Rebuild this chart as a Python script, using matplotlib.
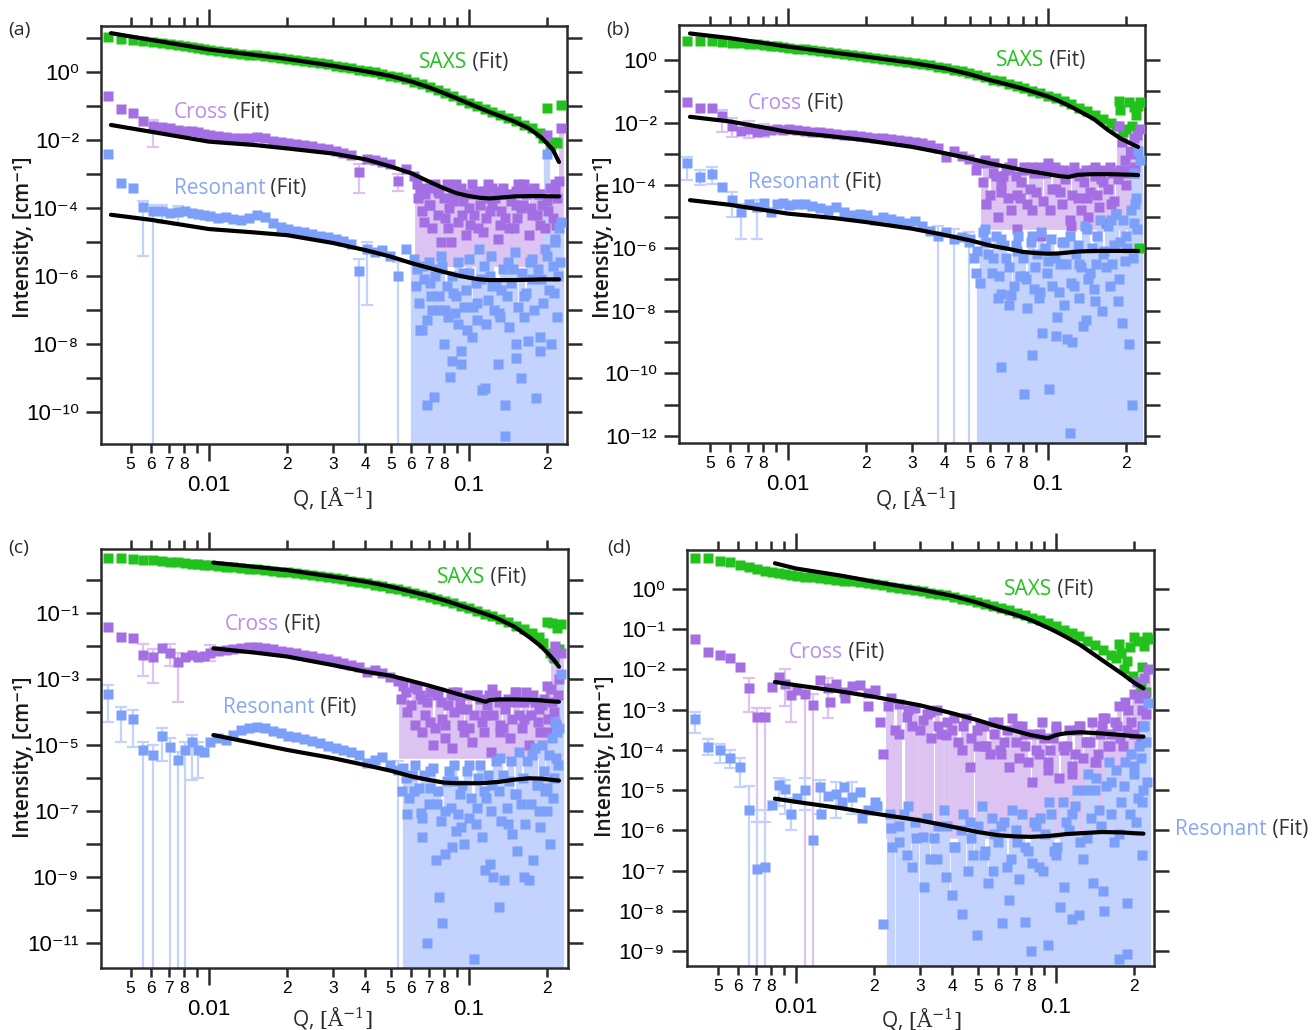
import numpy as np
import matplotlib
matplotlib.use('Agg')
import matplotlib.pyplot as plt
from matplotlib import font_manager
from matplotlib.ticker import FixedLocator, FixedFormatter, FuncFormatter, NullLocator

# intensities are stored as log10(I [cm^-1]); Q in 1/Angstrom
BOTTOM = -20   # error bar that reaches zero intensity

Q = [0.0041, 0.0046, 0.0051, 0.0056, 0.0061, 0.0066, 0.0071, 0.0076, 0.0081, 0.0086,
     0.0091, 0.0096, 0.0101, 0.0108, 0.0116, 0.0124, 0.0133, 0.0143, 0.0153, 0.0164,
     0.0176, 0.0189, 0.0202, 0.0217, 0.0232, 0.0249, 0.0267, 0.0286, 0.0307, 0.0329,
     0.0352, 0.0378, 0.0405, 0.0434, 0.0465, 0.0499, 0.0535, 0.0573, 0.0614, 0.0659,
     0.0706, 0.0757, 0.0811, 0.0870, 0.0932, 0.0999, 0.1071, 0.1148, 0.1231, 0.1320,
     0.1415, 0.1516, 0.1626, 0.1743, 0.1868, 0.2003, 0.2147, 0.2250]

fit_q_ab = [0.0042, 0.006, 0.01, 0.015, 0.02, 0.03, 0.04, 0.05, 0.06, 0.07, 0.08,
            0.09, 0.10, 0.11, 0.12, 0.13, 0.15, 0.17, 0.19, 0.21, 0.222]
fit_q_c = [0.0104, 0.015, 0.02, 0.03, 0.04, 0.05, 0.06, 0.07, 0.08, 0.09, 0.10,
           0.11, 0.116, 0.12, 0.13, 0.15, 0.17, 0.19, 0.21, 0.222]
fit_q_d = [0.0083, 0.01, 0.015, 0.02, 0.03, 0.04, 0.05, 0.06, 0.07, 0.08, 0.093,
           0.10, 0.11, 0.124, 0.15, 0.18, 0.20, 0.217]

# ---------------- panel (a)
a_saxs = [1.02, 0.98, 0.93, 0.90, 0.87, 0.84, 0.81, 0.78, 0.75, 0.72,
          0.69, 0.66, 0.63, 0.61, 0.58, 0.56, 0.53, 0.51, 0.49, 0.47,
          0.44, 0.41, 0.38, 0.35, 0.32, 0.29, 0.26, 0.22, 0.18, 0.14,
          0.11, 0.07, 0.03, -0.01, -0.06, -0.11, -0.16, -0.22, -0.29, -0.36,
          -0.44, -0.53, -0.62, -0.72, -0.82, -0.92, -1.01, -1.10, -1.19, -1.27,
          -1.36, -1.45, -1.56, -1.66, -1.80, -1.06, -2.05, -0.97]
a_saxs_cloud = [(0.193, -1.95), (0.207, -2.15), (0.219, -2.10)]
a_cross = [-0.71, -1.10, -1.22, -1.44, -1.58, -1.62, -1.66, -1.70, -1.73, -1.75,
           -1.78, -1.82, -1.86, -1.88, -1.91, -1.93, -1.95, -1.93, -1.90, -1.93,
           -2.02, -2.07, -2.10, -2.13, -2.16, -2.19, -2.23, -2.27, -2.33, -2.38,
           -2.43, -2.95, -2.55, -2.58, -2.65, -2.72, -3.20, -2.85, -3.05, -3.40,
           -3.90, -3.50, -4.30, -3.60, -3.40, -4.00, -3.50, -3.70, -3.40, -4.50,
           -3.60, -3.90, -3.50, -4.20, -3.60, -1.85, -3.30, -1.65]
a_cross_cloud = [(0.063, -3.3), (0.066, -4.1), (0.068, -3.6), (0.072, -4.6), (0.074, -3.3),
                 (0.078, -5.0), (0.080, -3.7), (0.084, -4.0), (0.085, -5.0), (0.089, -3.3),
                 (0.091, -4.4), (0.095, -3.8), (0.097, -4.8), (0.103, -3.3), (0.105, -4.2),
                 (0.110, -3.9), (0.113, -4.7), (0.118, -3.3), (0.121, -4.1), (0.126, -3.7),
                 (0.129, -4.9), (0.135, -3.4), (0.138, -4.3), (0.145, -3.8), (0.149, -4.6),
                 (0.155, -3.3), (0.158, -4.0), (0.166, -3.6), (0.170, -4.8), (0.178, -3.4),
                 (0.182, -4.2), (0.191, -3.9), (0.196, -4.6), (0.205, -3.4), (0.210, -4.3),
                 (0.218, -3.7), (0.222, -3.2), (0.0635, -3.7), (0.065, -3.45), (0.067, -4.4),
                 (0.070, -3.9), (0.071, -3.4), (0.076, -4.2), (0.077, -3.55), (0.082, -3.3),
                 (0.083, -4.6), (0.087, -3.8), (0.092, -3.5), (0.094, -4.2), (0.099, -3.6),
                 (0.101, -4.5), (0.107, -3.6), (0.108, -4.6), (0.115, -3.5), (0.116, -4.3),
                 (0.123, -3.9), (0.131, -3.5), (0.133, -4.1), (0.140, -3.6), (0.142, -4.6),
                 (0.151, -3.5), (0.153, -4.3), (0.161, -3.9), (0.163, -3.3), (0.173, -4.0),
                 (0.175, -3.5), (0.185, -3.6), (0.188, -4.5), (0.199, -3.8), (0.202, -4.1),
                 (0.214, -3.5), (0.216, -4.5)]
a_cross_bars = [(0.0061, -2.2, -1.4), (0.0378, -3.56, -2.7), (0.0535, -3.5, -3.0)]
a_cross_floor = (0.062, -5.7)
a_res = [-2.41, -3.26, -3.42, -3.98, -4.10, -4.10, -4.15, -4.12, -4.10, -4.15,
         -4.18, -4.22, -4.25, -4.30, -4.28, -4.32, -4.35, -4.30, -4.22, -4.28,
         -4.45, -4.55, -4.62, -4.68, -4.72, -4.78, -4.82, -4.85, -4.92, -4.98,
         -5.05, -5.85, -5.20, -5.30, -5.25, -5.40, -6.00, -5.20, -5.50, -7.60,
         -6.20, -5.80, -7.00, -6.50, -8.20, -5.90, -6.80, -9.30, -6.30, -7.20,
         -5.60, -8.40, -6.60, -5.50, -7.80, -2.40, -5.00, -4.40]
a_res_cloud = [(0.0625, -6.3), (0.0650, -7.6), (0.0668, -5.7), (0.0688, -7.3), (0.0690, -9.8),
               (0.0715, -6.6), (0.0736, -9.55), (0.0760, -7.0), (0.0780, -5.4), (0.0801, -8.0),
               (0.0820, -6.3), (0.0845, -8.97), (0.0858, -8.5), (0.0880, -7.1), (0.0905, -5.6),
               (0.0933, -8.6), (0.0960, -6.9), (0.0985, -7.6), (0.103, -7.8), (0.106, -6.2),
               (0.109, -5.2), (0.112, -9.35), (0.116, -7.4), (0.120, -6.0), (0.125, -7.0),
               (0.129, -8.6), (0.133, -6.4), (0.138, -9.8), (0.138, -10.7), (0.143, -7.5),
               (0.148, -5.8), (0.152, -8.0), (0.158, -9.0), (0.163, -7.2), (0.169, -7.9),
               (0.175, -6.1), (0.181, -9.6), (0.187, -8.2), (0.193, -6.8), (0.200, -5.4),
               (0.207, -8.0), (0.212, -6.5), (0.218, -7.2), (0.222, -4.6), (0.224, -5.6),
               (0.063, -5.8), (0.064, -6.8), (0.067, -6.1), (0.070, -5.6), (0.072, -7.0),
               (0.074, -6.0), (0.077, -6.6), (0.079, -5.7), (0.083, -7.2), (0.086, -6.0),
               (0.089, -6.6), (0.091, -7.4), (0.095, -5.9), (0.097, -6.4), (0.100, -5.5),
               (0.104, -6.9), (0.107, -7.3), (0.111, -6.1), (0.114, -5.7), (0.118, -6.7),
               (0.122, -5.4), (0.127, -6.2), (0.131, -7.1), (0.135, -5.8), (0.140, -6.6),
               (0.145, -6.2), (0.150, -5.3), (0.155, -6.9), (0.160, -5.9), (0.166, -6.5),
               (0.172, -5.6), (0.178, -7.0), (0.184, -5.8), (0.190, -6.1), (0.196, -5.2),
               (0.203, -6.4), (0.210, -5.7), (0.215, -4.9), (0.220, -6.0)]
a_res_bars = [(0.0056, -5.4, -3.8), (0.0061, BOTTOM, -3.9), (0.0066, -4.45, -3.9),
              (0.0076, -4.5, -3.95), (0.0378, BOTTOM, -5.5), (0.0405, -6.85, -5.0),
              (0.0535, BOTTOM, -5.6)]
a_res_floor = 0.0614
a_fit_saxs = [1.14, 0.94, 0.66, 0.50, 0.38, 0.18, 0.02, -0.12, -0.28, -0.45, -0.62,
              -0.78, -0.93, -1.06, -1.18, -1.28, -1.46, -1.66, -1.93, -2.28, -2.65]
a_fit_cross = [-1.56, -1.76, -2.05, -2.15, -2.25, -2.40, -2.57, -2.78, -2.98, -3.22, -3.42,
               -3.57, -3.65, -3.70, -3.72, -3.70, -3.66, -3.65, -3.65, -3.66, -3.66]
a_fit_res = [-4.20, -4.35, -4.62, -4.72, -4.80, -5.03, -5.24, -5.43, -5.62, -5.76, -5.88,
             -5.98, -6.05, -6.10, -6.12, -6.12, -6.12, -6.11, -6.10, -6.10, -6.10]

# ---------------- panel (b)
b_saxs = [0.62, 0.61, 0.60, 0.58, 0.56, 0.54, 0.52, 0.50, 0.48, 0.46,
          0.44, 0.42, 0.40, 0.37, 0.34, 0.31, 0.28, 0.25, 0.22, 0.19,
          0.16, 0.13, 0.10, 0.07, 0.04, 0.01, -0.02, -0.05, -0.09, -0.13,
          -0.17, -0.21, -0.26, -0.31, -0.36, -0.42, -0.48, -0.55, -0.62, -0.68,
          -0.75, -0.82, -0.90, -0.98, -1.06, -1.14, -1.22, -1.31, -1.40, -1.52,
          -1.62, -1.74, -1.88, -2.00, -1.30, -2.20, -1.50, -1.35]
b_saxs_cloud = [(0.182, -2.1), (0.190, -1.6), (0.195, -2.3), (0.205, -1.35), (0.210, -2.1),
                (0.218, -1.75), (0.222, -1.45), (0.224, -6.0)]
b_cross = [-1.33, -1.54, -1.54, -1.80, -2.10, -2.25, -2.20, -2.28, -2.25, -2.22,
           -2.20, -2.22, -2.20, -2.23, -2.26, -2.28, -2.30, -2.33, -2.36, -2.38,
           -2.40, -2.42, -2.45, -2.48, -2.50, -2.53, -2.56, -2.58, -2.61, -2.66,
           -2.72, -2.80, -3.10, -2.90, -3.05, -3.15, -3.30, -3.20, -3.60, -4.00,
           -3.40, -4.30, -3.50, -4.80, -3.60, -3.30, -4.10, -3.50, -5.30, -3.70,
           -4.40, -3.40, -3.90, -4.60, -2.10, -3.60, -2.50, -2.20]
b_cross_cloud = [(0.056, -3.9), (0.058, -4.6), (0.062, -3.3), (0.064, -5.0), (0.067, -3.7),
                 (0.070, -4.4), (0.073, -3.3), (0.076, -5.4), (0.079, -3.9), (0.083, -4.6),
                 (0.086, -3.4), (0.090, -4.2), (0.094, -5.6), (0.098, -3.6), (0.102, -4.8),
                 (0.106, -3.4), (0.111, -4.2), (0.116, -3.8), (0.121, -5.1), (0.126, -3.4),
                 (0.131, -4.4), (0.137, -3.9), (0.142, -5.0), (0.148, -3.5), (0.154, -4.3),
                 (0.160, -3.8), (0.167, -5.2), (0.173, -3.4), (0.180, -4.5), (0.186, -3.8),
                 (0.193, -2.6), (0.200, -4.0), (0.207, -2.9), (0.214, -3.6), (0.220, -2.4),
                 (0.053, -3.5), (0.057, -3.3), (0.060, -4.3), (0.063, -3.7), (0.066, -4.2),
                 (0.069, -3.5), (0.072, -4.8), (0.075, -3.7), (0.078, -4.4), (0.081, -3.4),
                 (0.085, -4.1), (0.088, -3.6), (0.092, -3.4), (0.096, -4.5), (0.100, -3.5),
                 (0.104, -4.1), (0.109, -3.5), (0.113, -4.6), (0.119, -3.6), (0.124, -4.3),
                 (0.129, -3.6), (0.134, -4.8), (0.140, -3.5), (0.145, -4.2), (0.151, -3.7),
                 (0.157, -4.7), (0.163, -3.5), (0.170, -4.1), (0.177, -3.6), (0.183, -4.9),
                 (0.190, -3.5), (0.197, -3.2), (0.203, -3.5), (0.211, -3.0), (0.217, -3.4)]
b_cross_bars = [(0.0056, -2.3, -1.6), (0.0061, -2.45, -1.85), (0.0071, -2.5, -1.95),
                (0.0081, -2.45, -2.05)]
b_cross_floor = (0.055, -5.4)
b_res = [-3.30, -3.73, -3.64, -4.05, -4.45, -4.85, -4.60, -4.70, -4.55, -4.85,
         -4.60, -4.55, -4.62, -4.60, -4.58, -4.65, -4.72, -4.78, -4.70, -4.85,
         -4.95, -4.90, -4.95, -5.10, -5.00, -5.08, -5.15, -5.20, -5.12, -5.30,
         -5.45, -5.60, -5.50, -5.70, -5.65, -5.80, -6.10, -5.40, -6.30, -5.70,
         -7.80, -6.10, -6.90, -5.60, -7.40, -6.40, -8.80, -5.80, -7.10, -6.50,
         -5.40, -7.70, -6.20, -5.10, -7.00, -5.60, -3.60, -3.20]
b_res_cloud = [(0.052, -6.3), (0.055, -7.1), (0.058, -5.8), (0.061, -6.8), (0.064, -7.6),
               (0.066, -9.8), (0.0662, -7.45), (0.069, -6.3), (0.072, -7.5), (0.075, -5.9),
               (0.078, -6.9), (0.081, -10.65), (0.083, -7.9), (0.087, -9.4), (0.089, -6.6),
               (0.092, -7.6), (0.095, -8.7), (0.097, -6.0), (0.101, -10.5), (0.104, -7.2),
               (0.108, -8.2), (0.111, -6.5), (0.115, -7.8), (0.118, -8.9), (0.121, -11.9),
               (0.124, -9.0), (0.128, -6.2), (0.132, -7.6), (0.136, -8.5), (0.140, -8.3),
               (0.145, -6.8), (0.150, -7.3), (0.155, -5.6), (0.161, -8.0), (0.167, -6.6),
               (0.173, -7.2), (0.180, -5.9), (0.186, -7.7), (0.192, -8.4), (0.197, -6.4),
               (0.205, -9.05), (0.210, -11.0), (0.214, -5.2), (0.218, -4.4), (0.222, -2.9),
               (0.050, -5.7), (0.053, -6.8), (0.056, -5.5), (0.059, -6.2), (0.063, -5.6),
               (0.065, -6.9), (0.068, -5.9), (0.071, -6.6), (0.074, -7.2), (0.077, -5.6),
               (0.080, -6.3), (0.082, -7.0), (0.086, -5.8), (0.088, -7.3), (0.091, -6.2),
               (0.094, -5.5), (0.099, -6.8), (0.103, -5.7), (0.106, -6.3), (0.110, -7.4),
               (0.113, -5.8), (0.117, -6.5), (0.122, -5.6), (0.126, -7.2), (0.130, -5.9),
               (0.134, -6.6), (0.139, -5.3), (0.143, -7.0), (0.148, -6.0), (0.153, -6.5),
               (0.158, -5.1), (0.164, -6.1), (0.170, -5.3), (0.176, -6.5), (0.183, -4.9),
               (0.189, -5.8), (0.195, -5.1), (0.201, -6.0), (0.208, -4.8), (0.212, -6.3),
               (0.216, -4.6), (0.220, -5.4)]
b_res_bars = [(0.0041, -3.83, -3.1), (0.0046, -4.0, -3.5), (0.0051, -3.95, -3.4),
              (0.0061, -5.0, -4.2), (0.0066, -5.7, -4.6), (0.0076, -5.7, -4.45),
              (0.0378, BOTTOM, -5.3), (0.0434, BOTTOM, -5.4), (0.0499, BOTTOM, -5.5)]
b_res_floor = 0.055
b_fit_saxs = [0.85, 0.70, 0.43, 0.24, 0.11, -0.09, -0.26, -0.45, -0.64, -0.78, -0.91,
              -1.04, -1.16, -1.30, -1.45, -1.60, -1.88, -2.23, -2.50, -2.68, -2.77]
b_fit_cross = [-1.81, -1.96, -2.29, -2.44, -2.56, -2.77, -2.97, -3.14, -3.30, -3.41, -3.51,
               -3.58, -3.64, -3.70, -3.73, -3.66, -3.64, -3.64, -3.65, -3.66, -3.67]
b_fit_res = [-4.47, -4.62, -4.90, -5.04, -5.17, -5.38, -5.58, -5.75, -5.92, -6.02, -6.12,
             -6.16, -6.18, -6.17, -6.14, -6.11, -6.09, -6.09, -6.09, -6.09, -6.09]

# ---------------- panel (c)
c_saxs = [0.66, 0.66, 0.64, 0.62, 0.60, 0.58, 0.56, 0.54, 0.52, 0.50,
          0.48, 0.46, 0.44, 0.42, 0.40, 0.38, 0.36, 0.34, 0.32, 0.30,
          0.28, 0.25, 0.23, 0.20, 0.17, 0.14, 0.11, 0.08, 0.05, 0.02,
          -0.02, -0.06, -0.10, -0.14, -0.18, -0.23, -0.28, -0.33, -0.39, -0.45,
          -0.51, -0.57, -0.64, -0.71, -0.78, -0.86, -0.94, -1.02, -1.10, -1.19,
          -1.28, -1.38, -1.48, -1.60, -1.72, -1.28, -2.05, -1.32]
c_saxs_cloud = [(0.193, -1.90), (0.205, -2.20), (0.209, -1.30), (0.213, -2.35),
                (0.218, -1.45), (0.222, -2.10)]
c_cross = [-1.41, -1.72, -1.77, -2.27, -2.32, -2.07, -2.22, -2.47, -2.32, -2.28,
           -2.34, -2.30, -2.20, -2.15, -2.12, -2.08, -2.05, -2.02, -2.03, -2.06,
           -2.10, -2.14, -2.18, -2.22, -2.26, -2.30, -2.35, -2.40, -2.46, -2.52,
           -2.58, -2.64, -2.78, -2.74, -2.82, -2.95, -3.05, -3.40, -3.25, -3.60,
           -4.30, -3.50, -4.80, -3.40, -3.90, -4.50, -3.50, -4.10, -3.30, -4.60,
           -3.70, -3.40, -4.20, -3.60, -3.90, -3.20, -2.00, -2.20]
c_cross_cloud = [(0.055, -3.6), (0.058, -4.0), (0.063, -3.3), (0.066, -4.6), (0.069, -3.7),
                 (0.073, -5.0), (0.076, -3.4), (0.079, -4.2), (0.083, -3.8), (0.086, -5.1),
                 (0.090, -3.4), (0.094, -4.4), (0.098, -3.9), (0.103, -4.9), (0.107, -3.5),
                 (0.112, -4.3), (0.117, -3.8), (0.122, -5.2), (0.127, -3.5), (0.132, -4.4),
                 (0.138, -3.9), (0.144, -4.8), (0.150, -3.4), (0.156, -4.1), (0.163, -3.7),
                 (0.170, -5.0), (0.177, -3.5), (0.184, -4.3), (0.191, -3.8), (0.199, -4.6),
                 (0.206, -3.3), (0.210, -2.3), (0.213, -4.0), (0.220, -3.5),
                 (0.056, -3.2), (0.060, -3.8), (0.062, -4.4), (0.065, -3.5), (0.068, -4.1),
                 (0.071, -3.4), (0.074, -4.5), (0.078, -3.7), (0.081, -4.4), (0.085, -3.5),
                 (0.088, -4.0), (0.092, -3.7), (0.096, -4.6), (0.100, -3.5), (0.105, -4.1),
                 (0.110, -3.6), (0.114, -4.6), (0.119, -3.5), (0.124, -4.1), (0.130, -3.7),
                 (0.135, -4.5), (0.141, -3.6), (0.147, -4.2), (0.153, -3.7), (0.160, -4.5),
                 (0.166, -3.4), (0.173, -4.1), (0.180, -3.7), (0.187, -4.6), (0.195, -3.6),
                 (0.202, -4.2), (0.208, -3.7), (0.216, -4.4), (0.222, -3.0)]
c_cross_bars = [(0.0056, -2.9, -1.95), (0.0061, -3.13, -2.1), (0.0071, -2.6, -1.95),
                (0.0076, -3.69, -2.2), (0.0101, -2.45, -1.98)]
c_cross_floor = (0.055, -5.4)
c_res = [-3.45, -4.09, -4.22, -5.15, -5.30, -4.73, -5.05, -5.45, -5.15, -4.90,
         -5.15, -5.20, -4.90, -4.80, -4.85, -4.70, -4.55, -4.48, -4.45, -4.50,
         -4.58, -4.65, -4.72, -4.76, -4.82, -4.88, -4.95, -5.02, -5.10, -5.15,
         -5.22, -5.30, -5.55, -5.45, -5.35, -5.60, -5.75, -6.00, -6.40, -7.20,
         -5.80, -6.80, -8.30, -6.10, -7.50, -5.60, -6.90, -8.80, -6.20, -5.40,
         -7.40, -6.50, -9.00, -5.30, -7.00, -6.30, -4.30, -2.85]
c_res_cloud = [(0.0555, -6.4), (0.058, -7.1), (0.0605, -5.9), (0.0653, -7.07), (0.066, -7.78),
               (0.069, -11.0), (0.071, -6.3), (0.0747, -8.5), (0.0768, -9.6), (0.079, -10.4),
               (0.081, -7.0), (0.084, -5.8), (0.086, -8.1), (0.089, -7.6), (0.092, -6.5),
               (0.096, -8.0), (0.100, -7.2), (0.105, -11.5), (0.108, -6.0), (0.112, -7.8),
               (0.116, -6.6), (0.120, -8.6), (0.124, -9.0), (0.130, -9.9), (0.133, -7.3),
               (0.137, -9.1), (0.142, -6.1), (0.147, -7.7), (0.153, -8.2), (0.158, -6.8),
               (0.164, -7.4), (0.170, -9.1), (0.176, -8.5), (0.182, -6.2), (0.188, -7.5),
               (0.194, -5.8), (0.200, -7.0), (0.205, -8.0), (0.210, -6.6), (0.216, -5.4),
               (0.222, -4.5), (0.056, -5.7), (0.059, -6.6), (0.062, -5.6), (0.064, -6.3),
               (0.067, -5.9), (0.070, -6.8), (0.073, -5.7), (0.076, -6.4), (0.078, -7.3),
               (0.082, -6.1), (0.085, -6.9), (0.088, -5.6), (0.091, -7.1), (0.094, -6.2),
               (0.098, -5.8), (0.102, -6.6), (0.106, -7.4), (0.110, -5.6), (0.114, -6.4),
               (0.118, -5.9), (0.122, -7.0), (0.127, -5.5), (0.131, -6.4), (0.135, -5.9),
               (0.140, -6.9), (0.145, -5.5), (0.150, -6.5), (0.156, -5.2), (0.161, -6.0),
               (0.167, -5.5), (0.173, -6.8), (0.179, -5.1), (0.185, -6.2), (0.191, -5.0),
               (0.197, -6.4), (0.203, -5.3), (0.208, -4.8), (0.213, -6.0), (0.218, -4.6),
               (0.221, -5.6)]
c_res_bars = [(0.0041, -4.29, -3.18), (0.0046, -4.9, -3.85), (0.0051, -5.05, -3.95),
              (0.0056, BOTTOM, -4.9), (0.0061, BOTTOM, -5.0), (0.0066, -5.5, -4.5),
              (0.0071, BOTTOM, -4.8), (0.0076, BOTTOM, -5.2), (0.0081, BOTTOM, -4.9),
              (0.0086, -6.06, -4.7), (0.0091, -6.0, -4.9), (0.0535, BOTTOM, -5.5)]
c_res_floor = 0.057
c_fit_saxs = [0.525, 0.40, 0.30, 0.10, -0.05, -0.20, -0.35, -0.48, -0.61, -0.74,
              -0.86, -0.97, -1.03, -1.07, -1.18, -1.42, -1.72, -2.02, -2.38, -2.63]
c_fit_cross = [-2.07, -2.20, -2.32, -2.58, -2.78, -2.90, -3.06, -3.20, -3.33, -3.45,
               -3.55, -3.64, -3.69, -3.64, -3.62, -3.62, -3.63, -3.65, -3.68, -3.69]
c_fit_res = [-4.70, -4.95, -5.15, -5.40, -5.61, -5.78, -5.95, -6.06, -6.14, -6.16,
             -6.16, -6.16, -6.15, -6.14, -6.12, -6.05, -6.01, -6.02, -6.06, -6.08]

# ---------------- panel (d)
d_saxs = [0.76, 0.76, 0.70, 0.66, 0.60, 0.54, 0.50, 0.46, 0.42, 0.39,
          0.37, 0.35, 0.33, 0.31, 0.29, 0.27, 0.25, 0.23, 0.21, 0.19,
          0.17, 0.14, 0.12, 0.09, 0.06, 0.03, 0.00, -0.03, -0.06, -0.09,
          -0.12, -0.16, -0.20, -0.24, -0.28, -0.32, -0.37, -0.42, -0.47, -0.53,
          -0.59, -0.65, -0.71, -0.78, -0.85, -0.93, -1.01, -1.09, -1.18, -1.28,
          -1.40, -1.52, -1.64, -1.36, -1.80, -1.19, -1.95, -1.23]
d_saxs_cloud = [(0.170, -1.72), (0.178, -1.60), (0.183, -2.00), (0.192, -1.45), (0.197, -2.15),
                (0.206, -1.30), (0.212, -2.45), (0.218, -1.42), (0.222, -2.55), (0.224, -1.20)]
d_cross = [-1.23, -1.56, -1.64, -1.72, -1.93, -2.47, -3.18, -3.18, -2.43, -2.18,
           -2.35, -2.64, -2.50, -2.60, -2.89, -2.26, -2.45, -2.35, -2.55, -2.40,
           -2.38, -2.58, -2.50, -4.09, -2.72, -2.85, -3.18, -2.95, -3.26, -3.05,
           -3.40, -3.63, -3.20, -4.00, -4.42, -3.50, -3.90, -3.30, -4.10, -4.42,
           -3.40, -3.90, -4.79, -3.60, -4.30, -3.50, -4.00, -4.60, -3.40, -3.80,
           -4.30, -3.20, -3.60, -2.90, -3.50, -2.60, -3.00, -2.00]
d_cross_cloud = [(0.0135, -2.8), (0.0155, -2.7), (0.019, -2.9), (0.021, -3.3), (0.025, -3.6),
                 (0.028, -3.4), (0.033, -3.7), (0.035, -3.0), (0.040, -3.5), (0.045, -3.2),
                 (0.050, -3.9), (0.053, -3.4), (0.056, -4.1), (0.060, -3.3), (0.063, -3.8),
                 (0.068, -3.2), (0.072, -4.2), (0.076, -3.6), (0.084, -4.0), (0.088, -3.3),
                 (0.093, -4.5), (0.097, -3.7), (0.103, -4.7), (0.110, -3.9), (0.115, -4.4),
                 (0.120, -3.5), (0.127, -4.2), (0.135, -3.8), (0.145, -4.1), (0.150, -3.4),
                 (0.158, -3.9), (0.168, -3.3), (0.177, -3.7), (0.185, -2.8), (0.195, -3.3),
                 (0.205, -2.3), (0.212, -3.8), (0.218, -2.2), (0.222, -3.1),
                 (0.0225, -2.9), (0.024, -3.5), (0.027, -3.0), (0.030, -3.5), (0.032, -3.1),
                 (0.036, -3.6), (0.038, -3.3), (0.042, -3.8), (0.044, -3.4), (0.047, -3.7),
                 (0.051, -3.4), (0.054, -3.9), (0.058, -3.6), (0.061, -4.0), (0.065, -3.5),
                 (0.070, -3.8), (0.074, -3.4), (0.078, -4.3), (0.082, -3.6), (0.086, -4.1),
                 (0.090, -3.7), (0.095, -4.0), (0.100, -3.4), (0.106, -3.9), (0.112, -3.5),
                 (0.118, -4.1), (0.124, -3.4), (0.131, -3.8), (0.138, -3.3), (0.142, -4.3),
                 (0.148, -3.6), (0.155, -3.2), (0.162, -3.9), (0.172, -3.4), (0.181, -3.9),
                 (0.190, -3.0), (0.200, -3.6), (0.208, -2.7), (0.215, -3.4), (0.220, -2.6)]
d_cross_bars = [(0.0066, -3.05, -2.2), (0.0071, -5.8, -2.95), (0.0076, -5.8, -2.95),
                (0.0091, -2.9, -2.0), (0.0096, -3.3, -2.4), (0.0108, BOTTOM, -2.4),
                (0.0116, BOTTOM, -2.6), (0.0133, -3.2, -2.2)]
d_cross_floor = (0.022, -6.2)
d_res = [-3.24, -3.92, -4.01, -4.21, -4.42, -5.50, -6.95, -6.90, -5.37, -4.88,
         -4.96, -5.58, -5.20, -5.00, -6.24, -4.92, -5.15, -5.10, -4.92, -5.17,
         -5.05, -5.50, -5.30, -8.32, -5.95, -6.30, -6.62, -5.80, -6.16, -6.70,
         -5.90, -7.16, -6.40, -8.07, -5.80, -8.61, -6.50, -7.00, -5.90, -7.74,
         -6.30, -8.28, -6.80, -5.70, -8.86, -6.60, -7.40, -5.60, -8.11, -6.20,
         -5.00, -7.50, -4.80, -6.10, -9.06, -4.40, -5.30, -2.84]
d_res_cloud = [(0.0125, -5.6), (0.015, -5.3), (0.018, -5.7), (0.0205, -5.4), (0.0235, -6.4),
               (0.026, -5.6), (0.028, -6.9), (0.031, -7.4), (0.034, -6.2), (0.037, -5.5),
               (0.040, -7.6), (0.043, -6.0), (0.046, -7.0), (0.048, -6.6), (0.052, -5.4),
               (0.055, -7.3), (0.058, -6.1), (0.062, -8.3), (0.065, -6.9), (0.068, -5.5),
               (0.072, -7.2), (0.076, -6.4), (0.080, -9.0), (0.084, -5.9), (0.089, -7.0),
               (0.094, -5.3), (0.098, -6.5), (0.104, -7.9), (0.109, -5.8), (0.115, -8.2),
               (0.121, -5.0), (0.127, -6.7), (0.133, -4.6), (0.139, -7.3), (0.146, -5.5),
               (0.153, -8.0), (0.160, -4.3), (0.167, -6.3), (0.175, -9.2), (0.182, -4.9),
               (0.188, -7.8), (0.195, -4.1), (0.203, -5.8), (0.209, -3.9), (0.215, -6.6),
               (0.219, -3.4), (0.223, -4.8),
               (0.023, -5.6), (0.025, -5.9), (0.027, -5.4), (0.029, -6.2), (0.032, -5.7),
               (0.035, -6.7), (0.038, -5.9), (0.041, -6.4), (0.044, -5.6), (0.047, -6.2),
               (0.050, -5.9), (0.053, -6.6), (0.057, -5.7), (0.060, -6.3), (0.063, -5.8),
               (0.067, -6.7), (0.070, -6.0), (0.074, -5.6), (0.078, -6.5), (0.082, -5.8),
               (0.086, -6.9), (0.091, -6.1), (0.096, -5.6), (0.101, -6.4), (0.106, -5.3),
               (0.112, -6.0), (0.118, -5.4), (0.124, -6.3), (0.130, -5.0), (0.136, -5.7),
               (0.142, -4.7), (0.149, -5.9), (0.156, -4.9), (0.163, -5.6), (0.170, -4.5),
               (0.178, -5.3), (0.185, -4.3), (0.192, -5.6), (0.199, -4.6), (0.206, -5.2),
               (0.212, -4.2), (0.217, -5.0), (0.221, -3.8)]
d_res_bars = [(0.0041, -3.59, -3.05), (0.0046, -4.12, -3.72), (0.0051, -4.33, -3.84),
              (0.0056, -4.46, -4.01), (0.0061, -4.92, -4.21), (0.0066, BOTTOM, -4.9),
              (0.0071, BOTTOM, -5.5), (0.0076, BOTTOM, -5.5), (0.0086, -5.4, -4.7),
              (0.0091, -5.6, -4.75), (0.0096, -6.0, -5.2), (0.0108, -5.5, -4.7),
              (0.0124, -5.6, -4.75), (0.0143, -5.7, -4.8), (0.0164, -5.6, -4.8)]
d_res_floor = 0.022
d_fit_saxs = [0.64, 0.51, 0.33, 0.18, -0.01, -0.17, -0.34, -0.51, -0.64, -0.77, -0.96,
              -1.06, -1.20, -1.39, -1.76, -2.11, -2.33, -2.47]
d_fit_cross = [-2.31, -2.39, -2.55, -2.68, -2.89, -3.09, -3.26, -3.42, -3.53, -3.63, -3.71,
               -3.63, -3.58, -3.56, -3.59, -3.63, -3.66, -3.67]
d_fit_res = [-5.21, -5.29, -5.45, -5.58, -5.75, -5.91, -6.04, -6.12, -6.15, -6.16, -6.14,
             -6.12, -6.09, -6.07, -6.04, -6.05, -6.07, -6.08]

# ---------------- style
GREEN = '#22c21c'
PURPLE = '#a46fe3'
BLUE = '#7c9ffa'
BLUE_BAR = '#c3d3fd'
PURPLE_BAR = '#dcc3f1'
INK = '#2a2a2a'

names = {f.name for f in font_manager.fontManager.ttflist}
tick_font = 'Liberation Sans Narrow' if 'Liberation Sans Narrow' in names else 'Liberation Sans'
label_font = ['Open Sans', 'DejaVu Sans']
plt.rcParams['font.family'] = [tick_font, 'DejaVu Sans']

SUP = str.maketrans('0123456789-', '\u2070\u00b9\u00b2\u00b3\u2074\u2075\u2076\u2077\u2078\u2079\u207b')

W, H = 1315, 1030
fig = plt.figure(figsize=(W / 100, H / 100), dpi=100)


def L(v):
    return 10.0 ** np.asarray(v, dtype=float)


def px_axes(left, top, right, bottom):
    return fig.add_axes([left / W, 1 - bottom / H, (right - left) / W, (bottom - top) / H])


def style(ax, xlim, ylim, decades, labeled):
    ax.set_xscale('log')
    ax.set_yscale('log')
    ax.set_xlim(L(xlim))
    ax.set_ylim(L(ylim))
    ax.xaxis.set_major_locator(FixedLocator([0.01, 0.1]))
    ax.xaxis.set_major_formatter(FixedFormatter(['0.01', '0.1']))
    minors = [0.005, 0.006, 0.007, 0.008, 0.009, 0.02, 0.03, 0.04, 0.05, 0.06, 0.07,
              0.08, 0.09, 0.2]
    ax.xaxis.set_minor_locator(FixedLocator(minors))
    ax.xaxis.set_minor_formatter(FixedFormatter(['5', '6', '7', '8', '', '2', '3', '4',
                                                 '5', '6', '7', '8', '', '2']))
    ax.yaxis.set_major_locator(FixedLocator(L(decades)))
    ax.yaxis.set_minor_locator(NullLocator())

    def yfmt(v, pos):
        e = int(round(np.log10(v)))
        return '10' + str(e).translate(SUP) if e in labeled else ''
    ax.yaxis.set_major_formatter(FuncFormatter(yfmt))
    ax.tick_params(axis='x', which='major', direction='out', length=12, width=1.8,
                   color=INK, top=True, bottom=True, labelsize=16, pad=10)
    ax.tick_params(axis='x', which='minor', direction='out', length=6.5, width=1.8,
                   color=INK, top=True, bottom=True, labelsize=12.5, pad=3)
    ax.tick_params(axis='y', which='major', direction='out', length=11, width=1.8,
                   color=INK, left=True, right=True, labelsize=16, pad=5)
    for s in ax.spines.values():
        s.set_linewidth(1.8)
        s.set_color(INK)


def draw(ax, saxs, saxs_cloud, cross, cross_cloud, cross_bars, cross_floor,
         res, res_cloud, res_bars, res_floor, fit_q, fits):
    q = np.array(Q)
    cq = np.concatenate([q, [c[0] for c in cross_cloud]])
    ci = np.concatenate([cross, [c[1] for c in cross_cloud]])
    rq = np.concatenate([q, [c[0] for c in res_cloud]])
    ri = np.concatenate([res, [c[1] for c in res_cloud]])

    # error bars: purple underneath, then blue
    m = cq >= cross_floor[0]
    ax.vlines(cq[m], L(cross_floor[1]), L(ci[m]), color=PURPLE_BAR, lw=3.5, zorder=1)
    for bq, lo, hi in cross_bars:
        ax.errorbar([bq], [L(hi)], yerr=[[L(hi) - L(lo)], [0]], fmt='none',
                    ecolor=PURPLE_BAR, elinewidth=1.6, capsize=4, capthick=1.6, zorder=1)
    m = rq >= res_floor
    ax.vlines(rq[m], L(BOTTOM), L(ri[m]), color=BLUE_BAR, lw=4.5, zorder=1.5)
    for bq, lo, hi in res_bars:
        ax.errorbar([bq], [L(hi)], yerr=[[L(hi) - L(lo)], [0]], fmt='none',
                    ecolor=BLUE_BAR, elinewidth=1.6, capsize=4, capthick=1.6, zorder=1.5)

    ms = 6.6
    ax.plot(q, L(saxs), 's', ms=ms, color=GREEN, mec='none', zorder=3)
    ax.plot([c[0] for c in saxs_cloud], L([c[1] for c in saxs_cloud]), 's', ms=ms,
            color=GREEN, mec='none', zorder=3)
    ax.plot(cq, L(ci), 's', ms=ms, color=PURPLE, mec='none', zorder=3.2)
    ax.plot(rq, L(ri), 's', ms=ms, color=BLUE, mec='none', zorder=3.4)
    for f in fits:
        ax.plot(fit_q, L(f), color='black', lw=3, zorder=5, solid_capstyle='round')


def tag(ax, x, y, word, color):
    t = ax.text(x, L(y), word, color=color, fontsize=15, family=label_font,
                ha='left', va='center', zorder=6)
    ax.annotate(' (Fit)', xy=(1, 0), xycoords=t, ha='left', va='bottom', color='#333333',
                fontsize=15, family=label_font, annotation_clip=False)


# ---------------- panels
ax_a = px_axes(101, 26, 567, 444)
draw(ax_a, a_saxs, a_saxs_cloud, a_cross, a_cross_cloud, a_cross_bars, a_cross_floor,
     a_res, a_res_cloud, a_res_bars, a_res_floor, fit_q_ab,
     [a_fit_saxs, a_fit_cross, a_fit_res])
style(ax_a, (-2.415, -0.623), (-10.94, 1.35), list(range(1, -11, -1)), [0, -2, -4, -6, -8, -10])
tag(ax_a, 0.0643, 0.29, 'SAXS', GREEN)
tag(ax_a, 0.00733, -1.18, 'Cross', '#b88ee9')
tag(ax_a, 0.00733, -3.44, 'Resonant', '#86a6f6')

ax_b = px_axes(679, 25, 1145, 443)
draw(ax_b, b_saxs, b_saxs_cloud, b_cross, b_cross_cloud, b_cross_bars, b_cross_floor,
     b_res, b_res_cloud, b_res_bars, b_res_floor, fit_q_ab,
     [b_fit_saxs, b_fit_cross, b_fit_res])
style(ax_b, (-2.419, -0.627), (-12.22, 1.12), list(range(0, -13, -1)),
      [0, -2, -4, -6, -8, -10, -12])
tag(ax_b, 0.0631, 0.0, 'SAXS', GREEN)
tag(ax_b, 0.00702, -1.37, 'Cross', '#b88ee9')
tag(ax_b, 0.00702, -3.90, 'Resonant', '#86a6f6')

ax_c = px_axes(101, 549, 568, 968)
draw(ax_c, c_saxs, c_saxs_cloud, c_cross, c_cross_cloud, c_cross_bars, c_cross_floor,
     c_res, c_res_cloud, c_res_bars, c_res_floor, fit_q_c,
     [c_fit_saxs, c_fit_cross, c_fit_res])
style(ax_c, (-2.415, -0.619), (-11.76, 0.94), list(range(0, -12, -1)),
      [-1, -3, -5, -7, -9, -11])
tag(ax_c, 0.0753, 0.09, 'SAXS', GREEN)
tag(ax_c, 0.01152, -1.36, 'Cross', '#b88ee9')
tag(ax_c, 0.01132, -3.85, 'Resonant', '#86a6f6')

ax_d = px_axes(687, 550, 1154, 966)
draw(ax_d, d_saxs, d_saxs_cloud, d_cross, d_cross_cloud, d_cross_bars, d_cross_floor,
     d_res, d_res_cloud, d_res_bars, d_res_floor, fit_q_d,
     [d_fit_saxs, d_fit_cross, d_fit_res])
style(ax_d, (-2.419, -0.623), (-9.37, 0.97), list(range(0, -10, -1)), list(range(0, -10, -1)))
tag(ax_d, 0.0631, -0.02, 'SAXS', GREEN)
tag(ax_d, 0.0094, -1.59, 'Cross', '#b88ee9')
tag(ax_d, 0.287, -5.97, 'Resonant', '#86a6f6')

# ---------------- figure texts
for letter, x, y in [('(a)', 8, 30), ('(b)', 606, 30), ('(c)', 8, 548), ('(d)', 607, 548)]:
    fig.text(x / W, 1 - y / H, letter, fontsize=14, family=label_font, ha='left', va='center',
             color=INK)
for x, y in [(23, 237), (603, 237), (23, 757), (605, 756)]:
    fig.text(x / W, 1 - y / H, 'Intensity, [cm\u207b\u00b9]', rotation=90, fontsize=15,
             family=label_font, weight='semibold', ha='center', va='center', color='#1a1a1a')
for x, y in [(332, 498), (915, 498), (332, 1018), (921, 1019)]:
    fig.text(x / W, 1 - y / H, r'Q, $[\mathrm{\AA}^{-1}]$', fontsize=15, family=label_font,
             math_fontfamily='dejavuserif', ha='center', va='center', color=INK)

fig.savefig('out.png', dpi=100)
